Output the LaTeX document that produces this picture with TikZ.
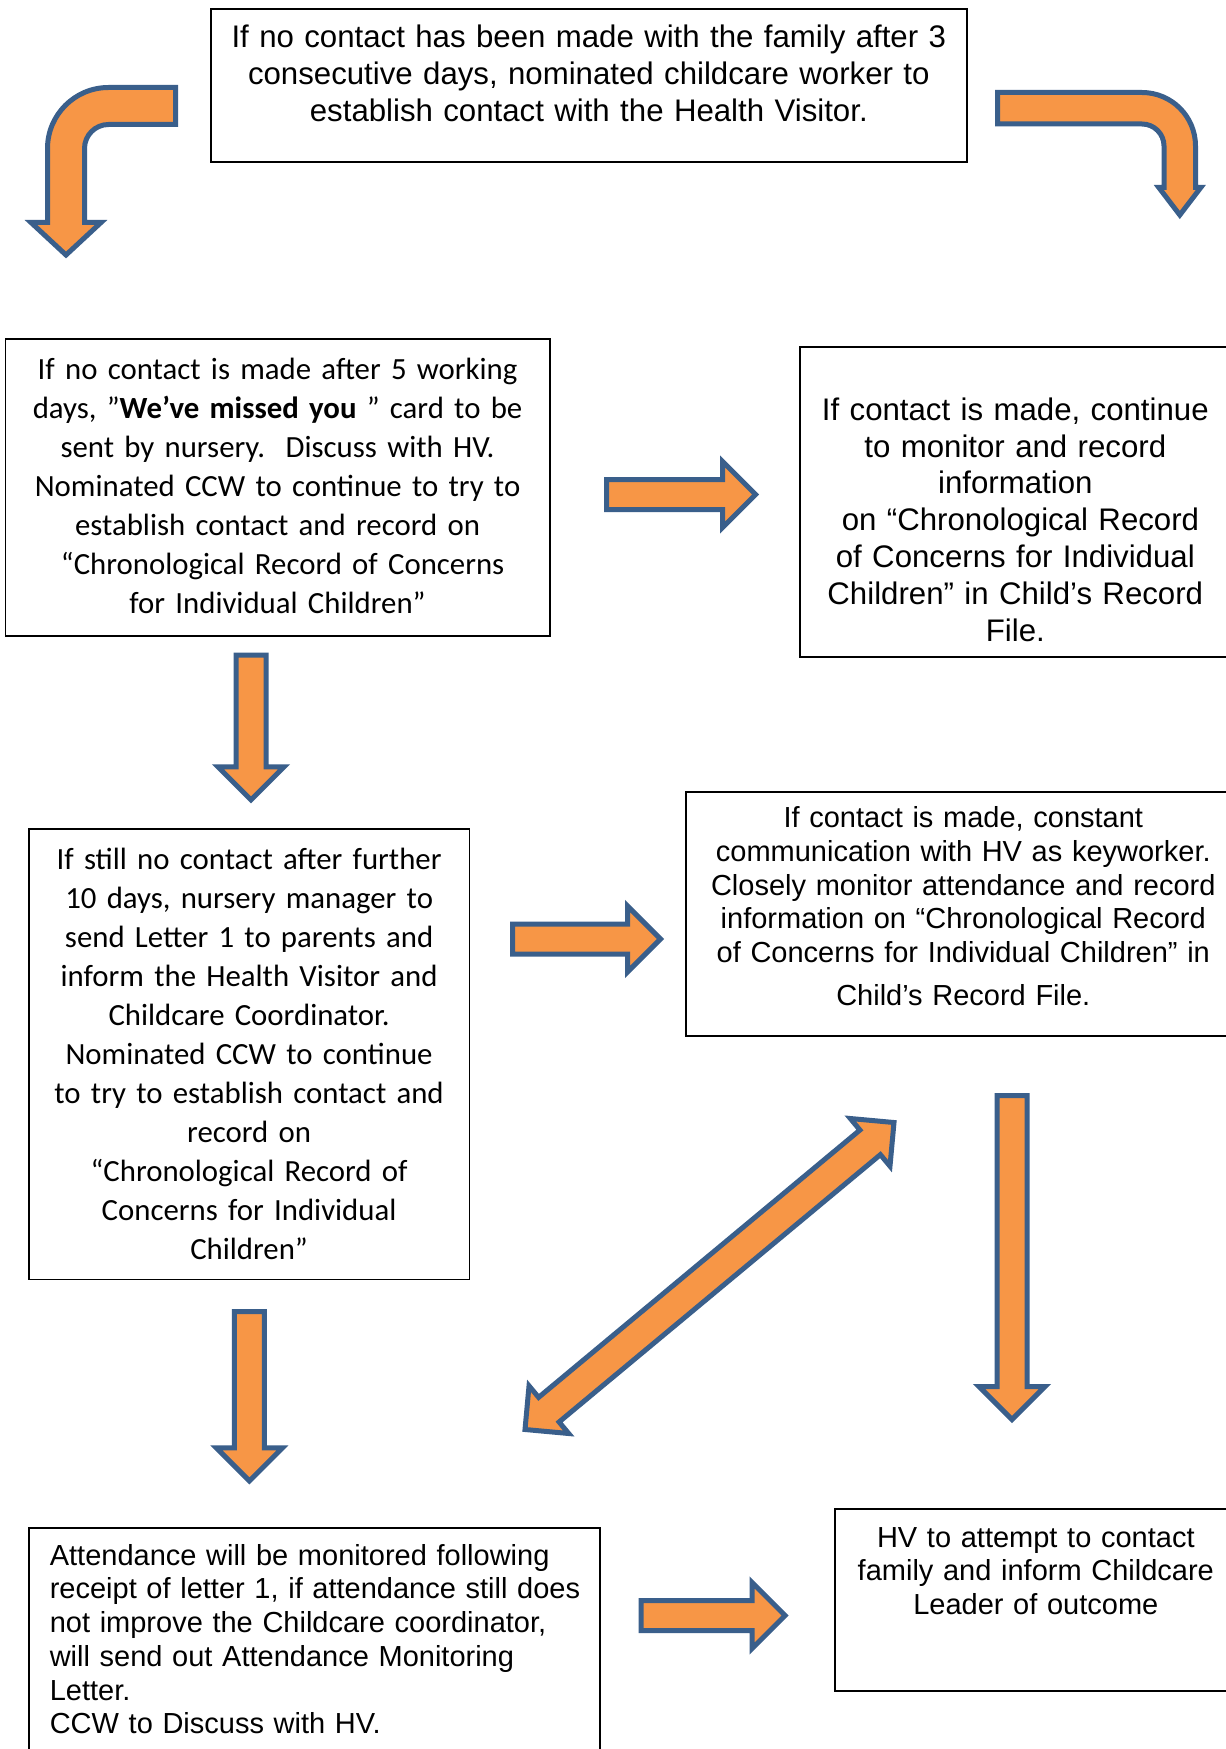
\documentclass[tikz,border=0pt]{standalone}
\usepackage{fontspec}
\setmainfont{Liberation Sans}
\newfontfamily\calibri{Carlito}
\usetikzlibrary{shapes.arrows}
\definecolor{arrowfill}{HTML}{F79646}
\definecolor{arrowline}{HTML}{3A5F8B}

\begin{document}
\frenchspacing
\begin{tikzpicture}[x=1pt, y=-1pt, textbox/.style={draw, line width=0.8pt, anchor=north west, inner ysep=0pt, inner xsep=4pt, align=center}, bigtext/.style={font=\fontsize{15.6}{18.4}\selectfont}, calitext/.style={font=\calibri\fontsize{15.4}{19.5}\selectfont}, smalltext/.style={font=\fontsize{14.5}{16.85}\selectfont}, blockarrow/.style={single arrow, draw=arrowline, fill=arrowfill, line width=2.5pt, inner xsep=0pt, inner ysep=6.25pt, minimum width=0pt, single arrow head extend=9pt}, twoway/.style={double arrow, draw=arrowline, fill=arrowfill, line width=2.5pt, inner xsep=0pt, inner ysep=6.75pt, minimum width=0pt, double arrow head extend=7.5pt}, bentarrow/.style={draw=arrowline, fill=arrowfill, line width=2.5pt}]

  \path[use as bounding box, fill=white] (0,0) rectangle (612.5,874.5);

  \node[textbox, bigtext, text width=370pt, text height=19.4pt, text depth=57.1pt] (hvlink) at (105,4) {If no contact has been made with the family after 3\\consecutive days, nominated childcare worker to\\establish contact with the Health Visitor.};
  \node[textbox, calitext, text width=264.25pt, text height=20.2pt, text depth=128.3pt] (card) at (2.25,169) {If no contact is made after 5 working\\days, ”\textbf{We’ve missed you} ” card to be\\sent by nursery.\ \ Discuss with HV.\\Nominated CCW to continue to try to\\establish contact and record on\\\ “Chronological Record of Concerns\\for Individual Children”};
  \node[textbox, bigtext, text width=207.5pt, text height=36.7pt, text depth=118.3pt] (monitor) at (399.5,173) {If contact is made, continue\\to monitor and record\\information\\\ on “Chronological Record\\of Concerns for Individual\\Children” in Child’s Record\\File.};
  \node[textbox, calitext, text width=212.3pt, text height=20.1pt, text depth=205.2pt] (letterone) at (14,414) {If still no contact after further\\10 days, nursery manager to\\send Letter 1 to parents and\\inform the Health Visitor and\\Childcare Coordinator.\\Nominated CCW to continue\\to try to establish contact and\\record on\\“Chronological Record of\\Concerns for Individual\\Children”};
  \node[textbox, smalltext, text width=265.5pt, inner xsep=6pt, text height=17.9pt, text depth=104.3pt] (keyworker) at (342.5,395.5) {If contact is made, constant\\communication with HV as keyworker.\\Closely monitor attendance and record\\information on “Chronological Record\\of Concerns for Individual Children” in\\[4.5pt]Child’s Record File.};
  \node[textbox, smalltext, align=left, text width=264.5pt, inner xsep=10.5pt, text height=18.7pt, text depth=110pt] (attend) at (14,763.5) {Attendance will be monitored following\\\mbox{receipt of letter 1, if attendance still does}\\not improve the Childcare coordinator,\\will send out Attendance Monitoring\\Letter.\\CCW to Discuss with HV.};
  \node[textbox, smalltext, text width=193pt, text height=19.2pt, text depth=71.8pt] (outcome) at (417,754) {HV to attempt to contact\\family and inform Childcare\\Leader of outcome};

  \node[blockarrow, minimum height=74.5pt] (cardarrow) at (336.8,247.25) {};
  \node[blockarrow, minimum height=74pt] (letterarrow) at (289.5,469.5) {};
  \node[blockarrow, minimum height=72pt] (attendarrow) at (352.8,807.75) {};
  \node[blockarrow, rotate=-90, minimum height=72.4pt] (downone) at (125.5,360) {};
  \node[blockarrow, rotate=-90, minimum height=84.6pt] (downtwo) at (124.7,694.4) {};
  \node[blockarrow, rotate=-90, minimum height=162pt] (downhv) at (506,625) {};
  \node[twoway, rotate=39.76, minimum height=240pt] (linkarrow) at (354.75,638) {};

  \draw[bentarrow] (87.75,43.75) -- (54.25,43.75) .. controls (37.4,43.75) and (23.75,57.4) .. (23.75,74.25) -- (23.75,111.25) -- (15.5,111.25) -- (33,127.5) -- (50.5,111.25) -- (42.25,111.25) -- (42.25,74.25) .. controls (42.25,67.62) and (47.62,62.25) .. (54.25,62.25) -- (87.75,62.25) -- cycle;
  \draw[bentarrow] (498.75,46.25) -- (571,46.25) .. controls (585.77,46.25) and (597.75,58.23) .. (597.75,73) -- (597.75,93.75) -- (600.4,93.75) -- (589.9,107.5) -- (579.4,93.75) -- (582,93.75) -- (582,73) .. controls (582,66.92) and (577.08,62) .. (571,62) -- (498.75,62) -- cycle;
\end{tikzpicture}
\end{document}
